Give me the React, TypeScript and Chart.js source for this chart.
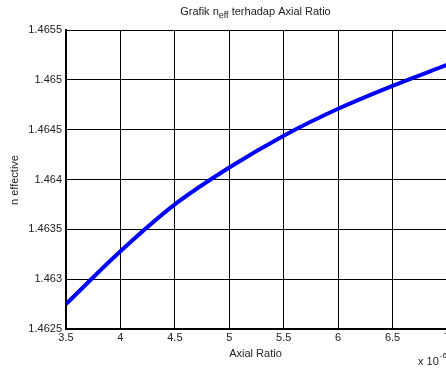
import React, { useEffect, useRef } from "react";
import { Chart, registerables } from "chart.js";

Chart.register(...registerables);

const axialRatio = [3.5, 4, 4.5, 5, 5.5, 6, 6.5, 7];
const nEffective = [1.46275, 1.46328, 1.46375, 1.46412, 1.46444, 1.46471, 1.46494, 1.46515];
const titleMain = "Grafik n";
const titleSub = "eff";
const titleRest = " terhadap Axial Ratio";
const xTitle = "Axial Ratio";
const yTitle = "n effective";
const xMultiplier = "x 10";
const xExponent = "-6";

const FONT = "Arial, 'Liberation Sans', Helvetica, sans-serif";
const TEXT = "#222";

const textPlugin = {
  id: "textPlugin",
  afterDraw(chart: any) {
    const ctx = chart.ctx;
    const a = chart.chartArea;
    ctx.save();
    ctx.fillStyle = TEXT;
    ctx.textBaseline = "middle";
    const cx = (a.left + a.right) / 2 - 1;
    ctx.font = `11px ${FONT}`;
    const w1 = ctx.measureText(titleMain).width;
    const w3 = ctx.measureText(titleRest).width;
    ctx.font = `9px ${FONT}`;
    const w2 = ctx.measureText(titleSub).width;
    let x = cx - (w1 + w2 + w3) / 2;
    ctx.textAlign = "left";
    ctx.font = `11px ${FONT}`;
    ctx.fillText(titleMain, x, 12);
    x += w1;
    ctx.font = `9px ${FONT}`;
    ctx.fillText(titleSub, x, 16);
    x += w2;
    ctx.font = `11px ${FONT}`;
    ctx.fillText(titleRest, x, 12);
    ctx.textAlign = "center";
    ctx.fillText(xTitle, cx, 354);
    ctx.textAlign = "left";
    ctx.fillText(xMultiplier, 418, 362);
    const wm = ctx.measureText(xMultiplier).width;
    ctx.font = `8px ${FONT}`;
    ctx.fillText(xExponent, 418 + wm + 1, 356);
    ctx.font = `11px ${FONT}`;
    ctx.translate(15, 180);
    ctx.rotate(-Math.PI / 2);
    ctx.textAlign = "center";
    ctx.fillText(yTitle, 0, 0);
    ctx.restore();
  },
};

export default function App() {
  const ref = useRef<HTMLCanvasElement>(null);
  useEffect(() => {
    document.body.style.margin = "0";
    const chart = new Chart(ref.current!, {
      type: "line",
      data: {
        datasets: [
          {
            data: axialRatio.map((v, i) => ({ x: v, y: nEffective[i] })),
            borderColor: "#0000ff",
            borderWidth: 4,
            pointRadius: 0,
            cubicInterpolationMode: "monotone",
            fill: false,
          },
        ],
      },
      options: {
        animation: false,
        responsive: false,
        devicePixelRatio: 1,
        layout: { padding: { top: 30, right: 13, left: 0, bottom: 0 } },
        plugins: { legend: { display: false }, title: { display: false }, tooltip: { enabled: false } },
        scales: {
          x: {
            type: "linear",
            min: 3.5,
            max: 7,
            ticks: {
              stepSize: 0.5,
              color: TEXT,
              font: { size: 11, family: FONT },
              padding: 2,
              maxRotation: 0,
              autoSkip: false,
              callback: (v: any) => String(+Number(v).toFixed(2)),
            },
            grid: { color: "#000", lineWidth: 1, drawTicks: false },
            border: { color: "#000", width: 2 },
            afterFit: (s: any) => {
              s.height = 39;
            },
          },
          y: {
            type: "linear",
            min: 1.4625,
            max: 1.4655,
            ticks: {
              stepSize: 0.0005,
              color: TEXT,
              font: { size: 11, family: FONT },
              padding: 4,
              autoSkip: false,
              callback: (v: any) => String(+Number(v).toFixed(4)),
            },
            grid: { color: "#000", lineWidth: 1, drawTicks: false },
            border: { color: "#000", width: 2 },
            afterFit: (s: any) => {
              s.width = 66;
            },
          },
        },
      },
      plugins: [textPlugin],
    } as any);
    return () => chart.destroy();
  }, []);
  return (
    <div style={{ position: "absolute", left: 0, top: 0, width: 446, height: 368, overflow: "hidden", background: "#fff" }}>
      <canvas ref={ref} width={460} height={368} style={{ width: 460, height: 368, display: "block" }} />
    </div>
  );
}
